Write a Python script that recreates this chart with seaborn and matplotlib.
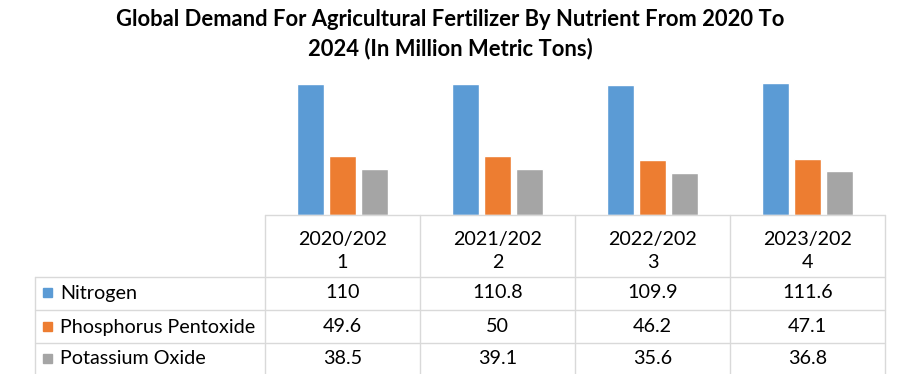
import matplotlib
matplotlib.use("Agg")
import matplotlib.pyplot as plt
import seaborn as sns
import pandas as pd
from matplotlib.patches import Rectangle

years = ["2020/2021", "2021/2022", "2022/2023", "2023/2024"]
nutrients = ["Nitrogen", "Phosphorus Pentoxide", "Potassium Oxide"]
nitrogen = [110, 110.8, 109.9, 111.6]
phosphorus = [49.6, 50, 46.2, 47.1]
potassium = [38.5, 39.1, 35.6, 36.8]
colors = ["#5B9BD5", "#ED7D31", "#A5A5A5"]
title = "Global Demand For Agricultural Fertilizer By Nutrient From 2020 To\n2024 (In Million Metric Tons)"

series = [nitrogen, phosphorus, potassium]
df = pd.DataFrame({
    "year": [y for s in series for y in years],
    "nutrient": [n for n, s in zip(nutrients, series) for _ in s],
    "value": [v for s in series for v in s],
})

sns.set_theme(style="white")
plt.rcParams["font.family"] = ["Lato", "DejaVu Sans"]

W, H = 900, 374
fig = plt.figure(figsize=(9, 3.74), dpi=100)

# layout in pixels
x0, x1 = 265, 885
base_y = 215
top_y = 75

ax = fig.add_axes([x0 / W, (H - base_y) / H, (x1 - x0) / W, (base_y - top_y) / H])
sns.barplot(data=df, x="year", y="value", hue="nutrient", palette=colors,
            width=0.613, gap=0.15, ax=ax, legend=False, saturation=1)
ax.set_xlim(-0.5, 3.5)
ax.set_ylim(0, 118)
ax.set_axis_off()

# overlay for the data table
ov = fig.add_axes([0, 0, 1, 1], facecolor="none")
ov.set_xlim(0, W)
ov.set_ylim(H, 0)
ov.set_axis_off()

grid = "#D9D9D9"
lw = 1.0
col_edges = [x0 + i * (x1 - x0) / len(years) for i in range(len(years) + 1)]
row_lines = [277, 310, 343]
left = 35

# horizontal lines
ov.plot([x0, x1], [base_y, base_y], color=grid, lw=lw)
for yl in row_lines:
    ov.plot([left, x1], [yl, yl], color=grid, lw=lw)
# vertical lines
for xe in col_edges:
    ov.plot([xe, xe], [base_y, H], color=grid, lw=lw)
ov.plot([left, left], [row_lines[0], H], color=grid, lw=lw)

fs = 14.2
# header
for i, y in enumerate(years):
    cx = (col_edges[i] + col_edges[i + 1]) / 2
    ov.text(cx, 239, y[:8], ha="center", va="center", fontsize=fs, color="black")
    ov.text(cx, 263, y[8:], ha="center", va="center", fontsize=fs, color="black")

row_centers = [293, 327, 359]
for r, (name, s, c) in enumerate(zip(nutrients, series, colors)):
    cy = row_centers[r]
    ov.add_patch(Rectangle((43, cy - 5), 9, 9, color=c))
    ov.text(60, cy, name, ha="left", va="center", fontsize=fs, color="black")
    for i, v in enumerate(s):
        cx = (col_edges[i] + col_edges[i + 1]) / 2
        ov.text(cx, cy, f"{v:g}", ha="center", va="center", fontsize=fs, color="black")

fig.text(0.5, 1 - 34 / H, title, ha="center", va="center", fontsize=15.8,
         fontweight="bold", linespacing=1.45, color="black")

fig.savefig("out.png", dpi=100)
